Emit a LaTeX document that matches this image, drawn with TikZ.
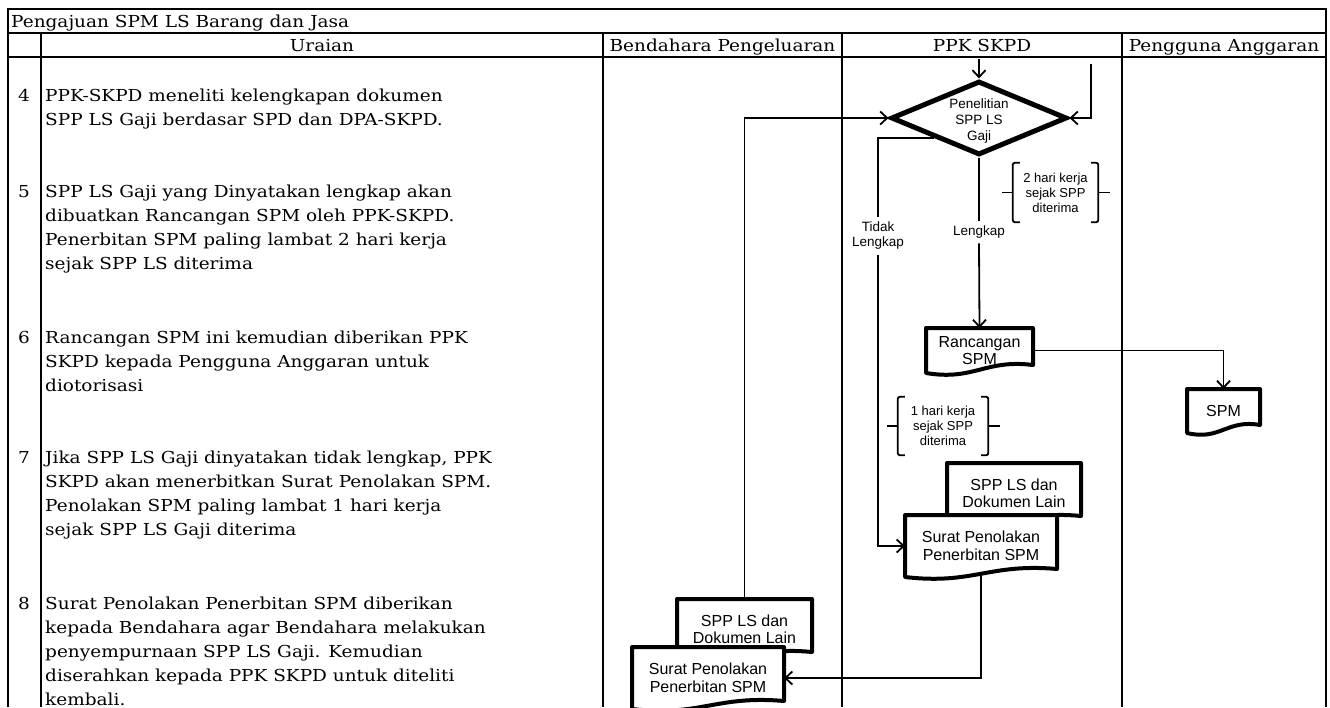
\documentclass[tikz,border=0pt]{standalone}
\usepackage{fontspec}
\setmainfont{DejaVu Serif}[FakeStretch=1.12]
\setsansfont{Liberation Sans}
\usetikzlibrary{arrows.meta, shapes.geometric, calc}

% outline of a document symbol with a wavy bottom
\newcommand{\docoutline}[1]{%
  \draw[docline] (#1.north west) -- (#1.north east) -- ($(#1.south east)+(0,-8)$)
    .. controls ($(#1.south east)!0.45!(#1.south west)+(0,-14)$) and ($(#1.south east)!0.55!(#1.south west)+(0,8)$) .. (#1.south west) -- cycle;}

\begin{document}
\begin{tikzpicture}[x=1pt, y=-1pt,
    tableframe/.style={line width=2.4pt},
    tablegrid/.style={line width=1.8pt},
    cell/.style={font=\fontsize{16.5}{24}\selectfont, inner sep=0pt, anchor=base},
    uraiantext/.style={font=\fontsize{16.5}{24}\selectfont, inner sep=0pt, anchor=base west},
    flow/.style={line width=1.8pt, -{Straight Barb[length=7pt,width=13pt]}},
    link/.style={line width=1.8pt},
    docbox/.style={rectangle, fill=white, inner sep=0pt, outer sep=0pt, align=center, font=\sffamily\fontsize{16}{17.5}\selectfont},
    docline/.style={line width=4pt, line join=round},
    decision/.style={diamond, aspect=2.4, draw, line width=5pt, fill=white, inner sep=0pt},
    decisiontext/.style={inner sep=0pt, align=center, font=\sffamily\fontsize{13.5}{16}\selectfont},
    durasi/.style={inner sep=0pt, align=center, font=\sffamily\fontsize{13}{15}\selectfont},
    bracket/.style={line width=1.8pt, rounded corners=2pt},
    branch/.style={fill=white, inner sep=5pt, align=center, font=\sffamily\fontsize{13.5}{15}\selectfont}]
  \useasboundingbox (0,0) rectangle (1330,707);

  % Draw the table
  \draw[tableframe] (8,707) -- (8,9) -- (1326,9) -- (1326,707);
  \draw[tablegrid] (8,33) -- (1326,33);
  \draw[tablegrid] (8,57) -- (1326,57);
  \foreach \x in {41,603,842,1122}
    \draw[tablegrid] (\x,33) -- (\x,707);

  % Headers
  \node[cell, anchor=base west] (judul) at (11,27) {Pengajuan SPM LS Barang dan Jasa};
  \node[cell] (hUraian) at (322,51) {Uraian};
  \node[cell] (hBendahara) at (722.5,51) {Bendahara Pengeluaran};
  \node[cell] (hPPK) at (982,51) {PPK SKPD};
  \node[cell] (hPA) at (1224,51) {Pengguna Anggaran};

  % Step numbers and descriptions
  \foreach \n/\y in {4/101,5/197,6/343,7/463,8/609}
    \node[cell] (no\n) at (24,\y) {\n};
  \foreach \y/\t [count=\k] in {
      101/{PPK-SKPD meneliti kelengkapan dokumen},
      125/{SPP LS Gaji berdasar SPD dan DPA-SKPD.},
      197/{SPP LS Gaji yang Dinyatakan lengkap akan},
      221/{dibuatkan Rancangan SPM oleh PPK-SKPD.},
      245/{Penerbitan SPM paling lambat 2 hari kerja},
      269/{sejak SPP LS diterima},
      343/{Rancangan SPM ini kemudian diberikan PPK},
      367/{SKPD kepada Pengguna Anggaran untuk},
      391/{diotorisasi},
      463/{Jika SPP LS Gaji dinyatakan tidak lengkap, PPK},
      487/{SKPD akan menerbitkan Surat Penolakan SPM.},
      511/{Penolakan SPM paling lambat 1 hari kerja},
      535/{sejak SPP LS Gaji diterima},
      609/{Surat Penolakan Penerbitan SPM diberikan},
      633/{kepada Bendahara agar Bendahara melakukan},
      657/{penyempurnaan SPP LS Gaji. Kemudian},
      681/{diserahkan kepada PPK SKPD untuk diteliti},
      705/{kembali.}}
    \node[uraiantext] (u\k) at (45,\y) {\t};

  % Decision
  \node[decision, minimum width=176pt, minimum height=74pt] (teliti) at (979,118) {};
  \node[decisiontext] (telitiIsi) at (979,121) {Penelitian\\SPP LS\\Gaji};

  % Documents
  \node[docbox, minimum width=107pt, minimum height=45pt] (rancangan) at (979.5,350.5) {Rancangan\\SPM};
  \docoutline{rancangan}
  \node[docbox, minimum width=73pt, minimum height=44pt] (spm) at (1223.5,411) {SPM};
  \docoutline{spm}
  \node[docbox, minimum width=134pt, minimum height=61pt] (sppPPK) at (1014,493.5) {SPP LS dan\\Dokumen Lain};
  \docoutline{sppPPK}
  \node[docbox, minimum width=152pt, minimum height=62pt] (suratPPK) at (981,546) {Surat Penolakan\\Penerbitan SPM};
  \docoutline{suratPPK}
  \node[docbox, minimum width=135pt, minimum height=61pt] (sppBend) at (744.5,629.5) {SPP LS dan\\Dokumen Lain};
  \docoutline{sppBend}
  \node[docbox, minimum width=152pt, minimum height=62pt] (suratBend) at (708,678) {Surat Penolakan\\Penerbitan SPM};
  \docoutline{suratBend}

  % Time limits
  \node[durasi, minimum width=85pt, minimum height=59pt] (durasi2) at (1055.5,192.5) {2 hari kerja\\sejak SPP\\diterima};
  \node[durasi, minimum width=90pt, minimum height=58pt] (durasi1) at (943,426) {1 hari kerja\\sejak SPP\\diterima};
  \foreach \b in {durasi1,durasi2} {
    \draw[bracket] ([xshift=7pt]\b.north west) -- (\b.north west) -- (\b.south west) -- ([xshift=7pt]\b.south west);
    \draw[bracket] ([xshift=-7pt]\b.north east) -- (\b.north east) -- (\b.south east) -- ([xshift=-7pt]\b.south east);
    \draw[bracket] (\b.west) -- ++(-11,0);
    \draw[bracket] (\b.east) -- ++(12,0);
  }

  % Branch labels
  \node[branch] (tidak) at (878,236) {Tidak\\Lengkap};
  \node[branch] (lengkap) at (979,232) {Lengkap};

  % Connectors
  \coordinate (masuk) at (979,59);
  \coordinate (balik) at (1091,64);
  \draw[flow] (masuk) -- (teliti.north);
  \draw[flow] (balik) |- (teliti.east);
  \draw[flow] (sppBend.north) |- (teliti.west);
  \draw[link] ($(teliti.west)!0.5!(teliti.south)$) -| (tidak.north);
  \draw[flow] (tidak.south) |- (suratPPK.west);
  \draw[link] (teliti.south) -- (lengkap.north);
  \draw[flow] (lengkap.south) -- (rancangan.north);
  \draw[flow] (rancangan.east) -| (spm.north);
  \draw[flow] ($(suratPPK.south)+(0,-3)$) |- (suratBend.east);
\end{tikzpicture}
\end{document}
